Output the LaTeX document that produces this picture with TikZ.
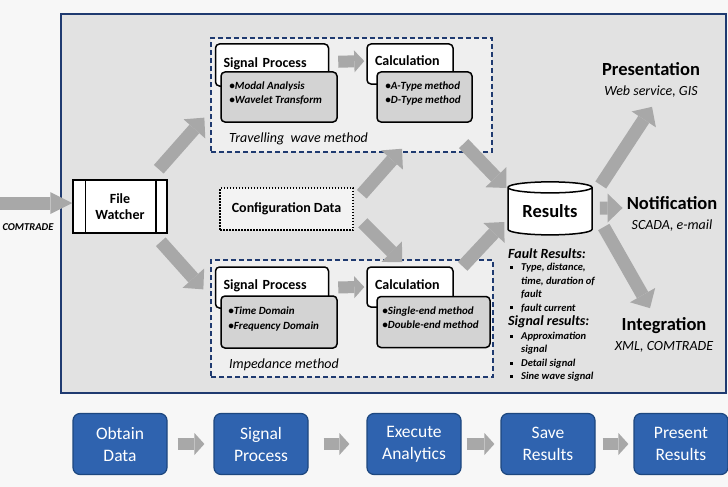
\documentclass[tikz,border=0pt]{standalone}
\usepackage{fontspec}
\setmainfont{Carlito}
\usetikzlibrary{arrows.meta, shapes.geometric, graphs}

\definecolor{navy}{HTML}{1F3A70}
\definecolor{pagegray}{HTML}{F7F7F7}
\definecolor{panelgray}{HTML}{E2E2E2}
\definecolor{methodgray}{HTML}{EFEFEF}
\definecolor{detailgray}{HTML}{D3D3D3}
\definecolor{arrowgray}{HTML}{A8A8A8}
\definecolor{stepblue}{HTML}{2F63AF}
\definecolor{stepedge}{HTML}{1D477F}

\newcommand{\fsz}[2]{\fontsize{#1}{#2}\selectfont}
\newcommand{\sqbullet}{\hspace*{2pt}\rule[1.8pt]{2.8pt}{2.8pt}}

\begin{document}
\begin{tikzpicture}[
                    x=1pt, y=-1pt,
                    >={Triangle[width=22pt,length=10pt,line width=0pt]},
                    panel/.style={fill=panelgray, draw=navy, line width=1.3pt},
                    method/.style={draw=navy, dash pattern=on 5pt off 3pt, line width=1.3pt, fill=methodgray, inner sep=0pt},
                    head/.style={draw, fill=white, rounded corners=4pt, line width=1.5pt, inner xsep=8pt, inner ysep=0pt,
                                 text height=12pt, text depth=8pt, align=left, font=\fsz{14}{16}\bfseries},
                    detail/.style={draw, fill=detailgray, rounded corners=4pt, line width=1.5pt, inner sep=0pt},
                    items/.style={anchor=north west, inner sep=0pt, align=left, font=\fsz{11}{14.5}\bfseries\itshape},
                    caption/.style={anchor=west, inner sep=0pt, font=\fsz{14}{16}\itshape},
                    plain/.style={draw, fill=white, line width=1.5pt, inner sep=0pt, align=center, font=\fsz{14}{16}\bfseries},
                    db/.style={cylinder, shape border rotate=90, aspect=0.2, draw, fill=white, line width=1.5pt,
                               minimum width=84pt, minimum height=53pt, inner sep=0pt, font=\fsz{18.5}{20}\bfseries},
                    target/.style={inner sep=0pt, align=center, font=\fsz{18.5}{19.5}\bfseries},
                    bigarrow/.style={draw=arrowgray, line width=13pt, -{Triangle[width=29pt,length=15pt,line width=0pt]}},
                    flow/.style={draw=arrowgray, line width=12pt, ->},
                    stepbox/.style={fill=stepblue, draw=stepedge, rounded corners=7pt, line width=1.2pt, minimum width=94pt,
                                    minimum height=61pt, inner sep=0pt, text=white, align=center, font=\fsz{17.5}{22}},
                ]
                \fill[pagegray] (0,0) rectangle (728,487);
                \useasboundingbox (0,0) rectangle (728,487);
                \draw[panel] (61,14) rectangle (726,393);

                \node[method, minimum width=281pt, minimum height=114pt] (tw) at (351.5,95) {};
                \node[method, minimum width=282pt, minimum height=117pt] (im) at (352,318.5) {};

                \node[head, text width=97pt, minimum height=42pt] (sp1) at (272,65) {Signal Process};
                \node[detail, minimum width=116pt, minimum height=50pt] (sp1d) at (279,97) {};
                \node[items] (sp1i) at ([shift={(9,10)}]sp1d.north west) {•Modal Analysis\\•Wavelet Transform};
                \node[head, text width=70pt, minimum height=40pt] (cal1) at (410,64) {Calculation};
                \node[detail, minimum width=95pt, minimum height=50pt] (cal1d) at (424.5,97) {};
                \node[items] (cal1i) at ([shift={(9,10)}]cal1d.north west) {•A-Type method\\•D-Type method};
                \node[caption] (twl) at (229,139) {Travelling\ \ wave method};

                \node[head, text width=97pt, minimum height=41pt] (sp2) at (272,287.5) {Signal Process};
                \node[detail, minimum width=116pt, minimum height=52pt] (sp2d) at (279,322) {};
                \node[items] (sp2i) at ([shift={(8,11.5)}]sp2d.north west) {•Time Domain\\•Frequency Domain};
                \node[head, text width=70pt, minimum height=40pt] (cal2) at (410,287) {Calculation};
                \node[detail, minimum width=113pt, minimum height=51pt] (cal2d) at (433.5,322) {};
                \node[items] (cal2i) at ([shift={(6,10.5)}]cal2d.north west) {•Single-end method\\•Double-end method};
                \node[caption] (iml) at (229,365) {Impedance method};

                \node[plain, minimum width=94pt, minimum height=53pt] (fw) at (120,206.5) {File\\Watcher};
                \draw[line width=1.5pt] ([xshift=13pt]fw.north west) -- ([xshift=13pt]fw.south west)
                                        ([xshift=-12pt]fw.north east) -- ([xshift=-12pt]fw.south east);
                \node[plain, fill=white!60!panelgray, dash pattern=on 1.5pt off 1.5pt, minimum width=133pt, minimum height=42pt] (cfg) at (286.5,209) {Configuration Data};
                \node[db] (res) at (550,211.5) {Results};

                \node[anchor=north west, inner sep=0pt, font=\fsz{10.5}{13.5}\bfseries\itshape] (resn) at (508,248) {%
                    \begin{tabular}{@{}p{13pt}@{}l@{}}
                        \multicolumn{2}{@{}l@{}}{\fsz{14}{16}Fault Results:}\\[-1pt]
                        \sqbullet & Type, distance,\\
                                  & time, duration of\\
                                  & fault\\
                        \sqbullet & fault current\\[1pt]
                        \multicolumn{2}{@{}l@{}}{\fsz{14}{16}Signal results:}\\
                        \sqbullet & Approximation\\
                                  & signal\\
                        \sqbullet & Detail signal\\
                        \sqbullet & Sine wave signal
                    \end{tabular}};

                \node[target] (pres) at (651,80) {Presentation\\{\fsz{14}{17}\mdseries\itshape Web service, GIS}};
                \node[target] (notif) at (672,214) {Notification\\{\fsz{14}{17}\mdseries\itshape SCADA, e-mail}};
                \node[target] (integ) at (664,335) {Integration\\{\fsz{14}{17}\mdseries\itshape XML, COMTRADE}};

                \coordinate (src) at (0,203);
                \node[inner sep=0pt, font=\fsz{10.5}{12}\bfseries\itshape] (srcl) at (28,227) {COMTRADE};
                \draw[draw=arrowgray, line width=13pt, -{Triangle[width=22pt,length=22pt,line width=0pt]}] (src) -- ([yshift=3.5pt]fw.west);

                \draw[flow, shorten <=9pt, shorten >=2pt] ([yshift=3pt]sp1.east) -- ([yshift=3pt]cal1.west);
                \draw[flow, shorten <=9pt, shorten >=2pt] (sp2.east) -- (cal2.west);

                \draw[bigarrow] ([shift={(-9,-10)}]fw.north east) -- ([shift={(-6,-35)}]tw.south west);
                \draw[bigarrow] ([shift={(-7,8)}]fw.south east) -- ([shift={(-7,30)}]im.north west);
                \draw[bigarrow] ([shift={(8,7)}]cfg.north east) -- ([shift={(-22.5,26)}]cal1d.south);
                \draw[bigarrow] ([shift={(9,-8)}]cfg.south east) -- ([shift={(36,-4)}]cal2.north west);
                \draw[bigarrow] ([shift={(-29,-9)}]tw.south east) -- ([shift={(-1,-23.5)}]res.west);
                \draw[bigarrow] ([shift={(-31,7)}]im.north east) -- ([shift={(-3,10.5)}]res.west);
                \draw[bigarrow] ([shift={(8,-26.5)}]res.east) -- ([shift={(1,9.5)}]pres.south);
                \draw[bigarrow] ([shift={(7,-3.5)}]res.east) -- ([shift={(-4,-6)}]notif.west);
                \draw[bigarrow] ([shift={(11,15.5)}]res.east) -- ([shift={(-14,-9.5)}]integ.north);

                \node[stepbox] (o1) at (120,444) {Obtain\\Data};
                \node[stepbox] (o2) at (261,444) {Signal\\Process};
                \node[stepbox] (o3) at (414,444) {Execute\\Analytics};
                \node[stepbox] (o4) at (548,444) {Save\\Results};
                \node[stepbox] (o5) at (681,444) {Present\\Results};

                \graph[use existing nodes, edges={flow}]{
                    o1 ->[shorten <=10pt, shorten >=9pt] o2 ->[shorten <=15pt, shorten >=17pt] o3
                       ->[shorten <=5pt, shorten >=6pt] o4 ->[shorten <=7pt, shorten >=5pt] o5 ;
                } ;
            \end{tikzpicture}
\end{document}
